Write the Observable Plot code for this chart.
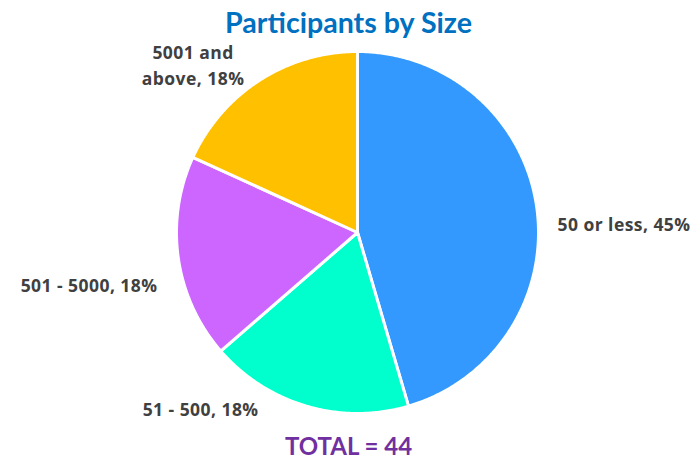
<!DOCTYPE html>
<html>
<head>
<meta charset="utf-8">
<script src="https://cdn.jsdelivr.net/npm/d3@7"></script>
<script src="https://cdn.jsdelivr.net/npm/@observablehq/plot@0.6"></script>
<style>
  html, body { margin: 0; padding: 0; background: #fff; }
  #wrap { width: 697px; height: 460px; font-family: Lato, "Open Sans", sans-serif; }
  #title { height: 40px; line-height: 44px; text-align: center; font-size: 28.6px; font-weight: bold; color: #0070C0; }
  #total { height: 32px; line-height: 36px; text-align: center; font-size: 24px; font-weight: bold; color: #7030A0; }
  svg { display: block; overflow: visible; }
  svg text { letter-spacing: 0.45px; }
</style>
</head>
<body>
<div id="wrap">
  <div id="title">Participants by Size</div>
  <div id="chart"></div>
  <div id="total">TOTAL = 44</div>
</div>
<script>
// Data
const categories = ["50 or less", "51 - 500", "501 - 5000", "5001 and above"];
const counts = [20, 8, 8, 8];
const percentLabels = ["45%", "18%", "18%", "18%"];
const colors = ["#3399FF", "#00FFCC", "#CC66FF", "#FFC000"];

const total = d3.sum(counts);
const R = 181;

// Build slice polygons from cumulative shares (angle clockwise from 12 o'clock)
const slices = [];
let acc = 0;
counts.forEach((c, i) => {
  const a0 = acc / total * 2 * Math.PI;
  acc += c;
  const a1 = acc / total * 2 * Math.PI;
  slices.push({cat: categories[i], a0, a1, mid: (a0 + a1) / 2, i});
});

const pts = [];
for (const s of slices) {
  pts.push({cat: s.cat, x: 0, y: 0});
  const n = Math.max(2, Math.ceil((s.a1 - s.a0) / (Math.PI / 360)));
  for (let k = 0; k <= n; k++) {
    const a = s.a0 + (s.a1 - s.a0) * k / n;
    pts.push({cat: s.cat, x: R * Math.sin(a), y: R * Math.cos(a)});
  }
}

// Label anchors at mid-angle just outside the pie, with layout nudges
const labelR = 195;
const nudges = [
  {anchor: "start", dx: 7, dy: 18},
  {anchor: "end", dx: -44, dy: -12},
  {anchor: "end", dx: -7, dy: 23},
  {anchor: "middle", dx: -59, dy: -5}
];
const labelText = (i) => i === 3
  ? "5001 and\nabove, " + percentLabels[i]
  : categories[i] + ", " + percentLabels[i];

const textMarks = slices.map((s, i) => Plot.text([s], {
  x: d => labelR * Math.sin(d.mid),
  y: d => labelR * Math.cos(d.mid),
  text: d => labelText(d.i),
  textAnchor: nudges[i].anchor,
  dx: nudges[i].dx,
  dy: nudges[i].dy,
  fill: "#404040",
  fontSize: 17.5,
  fontWeight: "bold",
  fontFamily: "'Open Sans', Lato, sans-serif",
  lineHeight: 1.5
}));

const chart = Plot.plot({
  width: 697,
  height: 388,
  margin: 0,
  x: {domain: [-357, 340], axis: null},
  y: {domain: [-196, 192], axis: null},
  color: {domain: categories, range: colors},
  style: {fontFamily: "Lato, 'Open Sans', sans-serif", background: "white"},
  marks: [
    Plot.line(pts, {
      x: "x", y: "y", z: "cat", fill: "cat",
      stroke: "white", strokeWidth: 3, strokeLinejoin: "round",
      curve: "linear-closed"
    }),
    ...textMarks
  ]
});
document.getElementById("chart").appendChild(chart);
</script>
</body>
</html>
